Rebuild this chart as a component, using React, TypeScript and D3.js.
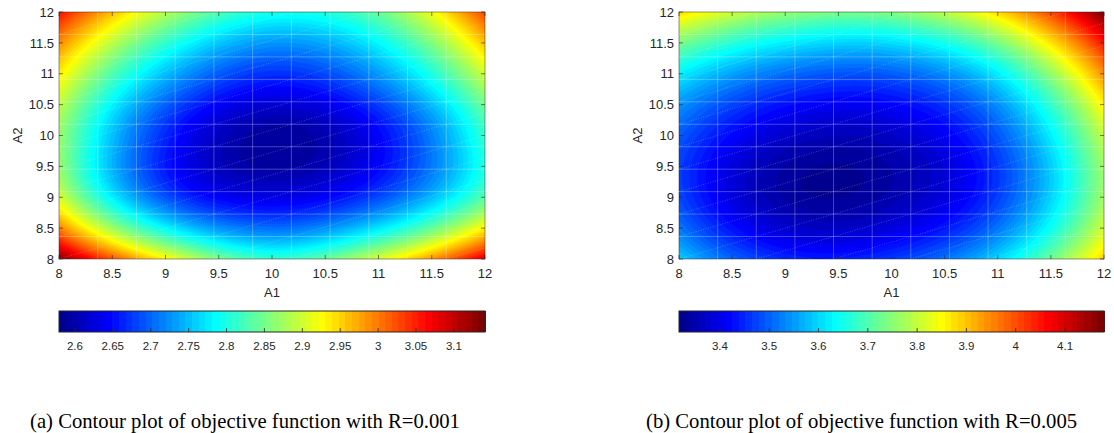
import React, { useMemo } from "react";
import * as d3 from "d3";

// ---- data ----
// grid nodes: A1 = 8..12 (columns), A2 = 12..8 (rows, top to bottom)
const A1_NODES = [8, 9, 10, 11, 12];
const A2_NODES = [12, 11, 10, 9, 8];

const LEFT_GRID = [
  [3.060, 2.885, 2.798, 2.843, 3.030],
  [2.935, 2.750, 2.670, 2.730, 2.900],
  [2.870, 2.665, 2.590, 2.645, 2.815],
  [2.905, 2.690, 2.630, 2.685, 2.835],
  [3.135, 2.930, 2.815, 2.905, 3.085],
];
const RIGHT_GRID = [
  [3.880, 3.760, 3.745, 3.880, 4.179],
  [3.625, 3.510, 3.495, 3.620, 3.945],
  [3.495, 3.375, 3.370, 3.490, 3.800],
  [3.478, 3.342, 3.350, 3.470, 3.770],
  [3.595, 3.452, 3.465, 3.602, 3.890],
];

const LEFT_RANGE = [2.579, 3.141];
const RIGHT_RANGE = [3.317, 4.179];

const AXIS_TICKS = [8, 8.5, 9, 9.5, 10, 10.5, 11, 11.5, 12];
const LEFT_CBAR_TICKS = [2.6, 2.65, 2.7, 2.75, 2.8, 2.85, 2.9, 2.95, 3, 3.05, 3.1];
const RIGHT_CBAR_TICKS = [3.4, 3.5, 3.6, 3.7, 3.8, 3.9, 4, 4.1];

const CAPTION_A = "(a) Contour plot of objective function with R=0.001";
const CAPTION_B = "(b) Contour plot of objective function with R=0.005";

const X_LABEL = "A1";
const Y_LABEL = "A2";

const MESH_N = 12; // mesh nodes per axis visible as seams
const LEVELS = 64;

// ---- helpers ----
function matlabJet(m: number): string[] {
  const n = Math.ceil(m / 4);
  const u: number[] = [];
  for (let i = 1; i <= n; i++) u.push(i / n);
  for (let i = 1; i < n; i++) u.push(1);
  for (let i = n; i >= 1; i--) u.push(i / n);
  const gStart = Math.ceil(n / 2) - (m % 4 === 1 ? 1 : 0);
  const J = Array.from({ length: m }, () => [0, 0, 0]);
  for (let k = 0; k < u.length; k++) {
    const gi = gStart + k + 1;
    const ri = gi + n;
    const bi = gi - n;
    if (gi >= 1 && gi <= m) J[gi - 1][1] = u[k];
    if (ri >= 1 && ri <= m) J[ri - 1][0] = u[k];
    if (bi >= 1 && bi <= m) J[bi - 1][2] = u[k];
  }
  return J.map(([r, g, b]) => d3.rgb(r * 255, g * 255, b * 255).formatHex());
}
const JET = matlabJet(LEVELS);

function extend(arr: number[]): number[] {
  const n = arr.length;
  return [
    3 * arr[0] - 3 * arr[1] + arr[2],
    ...arr,
    3 * arr[n - 1] - 3 * arr[n - 2] + arr[n - 3],
  ];
}
function cr(p0: number, p1: number, p2: number, p3: number, t: number) {
  return 0.5 * (2 * p1 + (-p0 + p2) * t + (2 * p0 - 5 * p1 + 4 * p2 - p3) * t * t + (-p0 + 3 * p1 - 3 * p2 + p3) * t * t * t);
}
function makeInterp(gridTopDown: number[][]) {
  const bt = gridTopDown.slice().reverse(); // row 0 = A2 = 8
  const rowsX = bt.map(extend);
  const cols = rowsX[0].length;
  const E: number[][] = [];
  const colsExt: number[][] = [];
  for (let c = 0; c < cols; c++) colsExt.push(extend(rowsX.map((r) => r[c])));
  for (let r = 0; r < colsExt[0].length; r++) E.push(colsExt.map((col) => col[r]));
  const nx = A1_NODES.length, ny = A2_NODES.length;
  const x0 = A1_NODES[0], dx = A1_NODES[1] - A1_NODES[0];
  const y0 = A2_NODES[A2_NODES.length - 1], dy = A2_NODES[0] - A2_NODES[1];
  return (x: number, y: number) => {
    const gx = (x - x0) / dx, gy = (y - y0) / dy;
    const i = Math.max(0, Math.min(nx - 2, Math.floor(gx)));
    const j = Math.max(0, Math.min(ny - 2, Math.floor(gy)));
    const tx = gx - i, ty = gy - j;
    const vals: number[] = [];
    for (let jj = j - 1; jj <= j + 2; jj++) {
      const row = E[jj + 1];
      vals.push(cr(row[i], row[i + 1], row[i + 2], row[i + 3], tx));
    }
    return cr(vals[0], vals[1], vals[2], vals[3], ty);
  };
}

const FONT = "'Liberation Sans', Arial, Helvetica, sans-serif";
const SERIF = "'Liberation Serif', 'Times New Roman', serif";
const AX = "#262626";

type PanelProps = {
  px0: number; px1: number; grid: number[][]; range: number[];
  cbarTicks: number[]; caption: string; captionX: number;
};

function Panel({ px0, px1, grid, range, cbarTicks, caption, captionX }: PanelProps) {
  const py0 = 12, py1 = 259;
  const xS = d3.scaleLinear().domain([8, 12]).range([px0, px1]);
  const yS = d3.scaleLinear().domain([8, 12]).range([py1, py0]);
  const cS = d3.scaleLinear().domain(range).range([px0, px1]);
  const cb0 = 311, cb1 = 332;

  const { paths, n, m } = useMemo(() => {
    const f = makeInterp(grid);
    const n = Math.round((px1 - px0) / 2), m = Math.round((py1 - py0) / 2);
    const values = new Float64Array(n * m);
    for (let j = 0; j < m; j++) {
      const y = 12 - ((j + 0.5) / m) * 4;
      for (let i = 0; i < n; i++) {
        const x = 8 + ((i + 0.5) / n) * 4;
        values[j * n + i] = f(x, y);
      }
    }
    const step = (range[1] - range[0]) / LEVELS;
    const thr = d3.range(1, LEVELS).map((k) => range[0] + k * step);
    const contours = d3.contours().size([n, m]).thresholds(thr)(values as any);
    const gp = d3.geoPath();
    const paths = contours.map((c, k) => ({ d: gp(c as any) || "", color: JET[k + 1] }));
    return { paths, n, m };
  }, [grid, range, px0, px1]);

  // mesh seam lines
  const mx = (i: number) => px0 + (i / (MESH_N - 1)) * (px1 - px0);
  const my = (r: number) => py0 + (r / (MESH_N - 1)) * (py1 - py0);
  const meshIdx = d3.range(1, MESH_N - 1);
  const diag: { x1: number; y1: number; x2: number; y2: number }[] = [];
  const last = MESH_N - 1;
  for (let k = 1; k < last + last / 2; k++) {
    const iA = Math.max(0, 2 * (k - last));
    const iB = Math.min(last, 2 * k);
    if (iB <= iA) continue;
    diag.push({ x1: mx(iA), y1: my(k - iA / 2), x2: mx(iB), y2: my(k - iB / 2) });
  }

  const step = (range[1] - range[0]) / LEVELS;
  const clipId = `clip-${px0}`;
  return (
    <g>
      <defs>
        <clipPath id={clipId}>
          <rect x={px0} y={py0} width={px1 - px0} height={py1 - py0} />
        </clipPath>
      </defs>
      <g clipPath={`url(#${clipId})`}>
        <rect x={px0} y={py0} width={px1 - px0} height={py1 - py0} fill={JET[0]} />
        <g transform={`translate(${px0},${py0}) scale(${(px1 - px0) / n},${(py1 - py0) / m})`}>
          {paths.map((p, k) => (
            <path key={k} d={p.d} fill={p.color} stroke={p.color} strokeWidth={0.3} />
          ))}
        </g>
        {meshIdx.map((i) => (
          <line key={`v${i}`} x1={mx(i)} x2={mx(i)} y1={py0} y2={py1} stroke="#fff" strokeOpacity={0.35} strokeWidth={0.8} />
        ))}
        {meshIdx.map((r) => (
          <line key={`h${r}`} x1={px0} x2={px1} y1={my(r)} y2={my(r)} stroke="#fff" strokeOpacity={0.35} strokeWidth={0.8} />
        ))}
        {diag.map((l, k) => (
          <line key={`d${k}`} {...l} stroke="#fff" strokeOpacity={0.4} strokeWidth={0.6} strokeDasharray="1,1.5" />
        ))}
      </g>
      <rect x={px0} y={py0} width={px1 - px0} height={py1 - py0} fill="none" stroke={AX} strokeOpacity={0.6} strokeWidth={0.8} />
      {AXIS_TICKS.map((t) => (
        <g key={`xt${t}`}>
          <line x1={xS(t)} x2={xS(t)} y1={py1} y2={py1 - 4} stroke={AX} strokeWidth={0.6} />
          <line x1={xS(t)} x2={xS(t)} y1={py0} y2={py0 + 4} stroke={AX} strokeWidth={0.6} />
          <text x={xS(t)} y={278} textAnchor="middle" fontFamily={FONT} fontSize={13} fill={AX}>{String(t)}</text>
        </g>
      ))}
      {AXIS_TICKS.map((t) => (
        <g key={`yt${t}`}>
          <line x1={px0} x2={px0 + 4} y1={yS(t)} y2={yS(t)} stroke={AX} strokeWidth={0.6} />
          <line x1={px1} x2={px1 - 4} y1={yS(t)} y2={yS(t)} stroke={AX} strokeWidth={0.6} />
          <text x={px0 - 5} y={yS(t)} dy="0.36em" textAnchor="end" fontFamily={FONT} fontSize={13} fill={AX}>{String(t)}</text>
        </g>
      ))}
      <text x={(px0 + px1) / 2} y={297} textAnchor="middle" fontFamily={FONT} fontSize={13} fill={AX}>{X_LABEL}</text>
      <text transform={`translate(${px0 - 37},${(py0 + py1) / 2}) rotate(-90)`} textAnchor="middle" fontFamily={FONT} fontSize={13} fill={AX}>{Y_LABEL}</text>

      {/* colorbar */}
      <g shapeRendering="crispEdges">
        {JET.map((c, k) => (
          <rect key={`cb${k}`} x={cS(range[0] + k * step)} y={cb0} width={cS(range[0] + (k + 1) * step) - cS(range[0] + k * step) + 1} height={cb1 - cb0} fill={c} />
        ))}
      </g>
      <rect x={px0} y={cb0} width={px1 - px0} height={cb1 - cb0} fill="none" stroke={AX} strokeWidth={1} />
      {cbarTicks.map((t) => (
        <g key={`ct${t}`}>
          <line x1={cS(t)} x2={cS(t)} y1={cb1} y2={cb1 - 4} stroke={AX} strokeWidth={0.8} />
          <text x={cS(t)} y={350} textAnchor="middle" fontFamily={FONT} fontSize={11.5} fill={AX}>{String(t)}</text>
        </g>
      ))}
      <text x={captionX} y={428} fontFamily={SERIF} fontSize={20.7} fill="#000">{caption}</text>
    </g>
  );
}

export default function App() {
  return (
    <svg width={1114} height={433} style={{ position: "absolute", left: 0, top: 0, background: "#fff" }}>
      <rect width={1114} height={433} fill="#fff" />
      <Panel px0={59} px1={485} grid={LEFT_GRID} range={LEFT_RANGE} cbarTicks={LEFT_CBAR_TICKS} caption={CAPTION_A} captionX={30} />
      <Panel px0={679} px1={1104} grid={RIGHT_GRID} range={RIGHT_RANGE} cbarTicks={RIGHT_CBAR_TICKS} caption={CAPTION_B} captionX={646} />
    </svg>
  );
}
